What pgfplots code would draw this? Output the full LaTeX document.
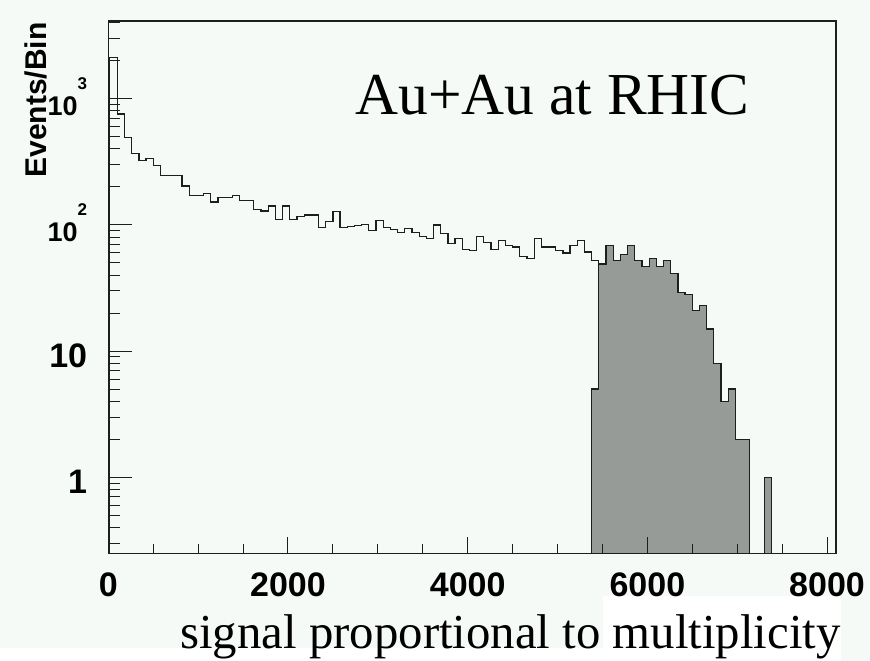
\documentclass[border=0pt]{standalone}
\usepackage{fontspec}
\setmainfont{Liberation Serif}
\setsansfont{Liberation Sans}
\usepackage{pgfplots}
\pgfplotsset{compat=1.18}
\definecolor{bgc}{RGB}{245,250,247}
\definecolor{histgray}{RGB}{151,155,151}
\definecolor{linec}{RGB}{30,30,30}
\newcommand{\tk}{\fontsize{17bp}{17bp}\selectfont\sffamily\bfseries}
\newcommand{\tke}[1]{\fontsize{13.5bp}{13.5bp}\selectfont\sffamily\bfseries 10\raisebox{13bp}{\fontsize{8.5bp}{8.5bp}\selectfont #1}}
\begin{document}
\begin{tikzpicture}
\begin{scope}[x=0.5bp,y=0.5bp]
\useasboundingbox (0,0) rectangle (870,661);
\fill[bgc] (0,13) rectangle (870,661);
\fill[bgc] (841,0) rectangle (870,13);
\fill[white] (603,0) rectangle (841,65);
\end{scope}
\begin{axis}[at={(54.15bp,53.85bp)}, anchor=south west, scale only axis,
  width=363.85bp, height=266.15bp,
  ymode=log, xmin=0, xmax=8100, ymin=0.25, ymax=4130,
  axis line style={linec, line width=0.65bp},
  tick style={linec, line width=0.5bp},
  xtick=\empty,
  ytick={1,10,100,1000},
  yticklabels={{\tk 1},{\tk 10},{\tke{2}},{\tke{3}}},
  minor ytick={0.3,0.4,0.5,0.6,0.7,0.8,0.9,2,3,4,5,6,7,8,9,20,30,40,50,60,70,80,90,200,300,400,500,600,700,800,900,2000,3000,4000},
  ytick pos=left,
  major tick length=11.85bp, minor tick length=6bp,
  yticklabel style={anchor=base east, inner sep=0pt, xshift=-10.4bp, yshift=-8.3bp},
]
% shaded (selected) events
\addplot[const plot, fill=histgray, draw=linec, line width=0.65bp] coordinates {
(5380,0.01) (5380,5) (5460,49) (5540,69) (5620,52) (5700,58) (5780,69) (5860,52)
(5940,47) (6020,54) (6100,47) (6180,52) (6260,41) (6340,29) (6420,28) (6500,21)
(6580,23) (6660,15) (6740,8) (6820,4) (6900,5) (6980,2) (7060,2) (7140,0.01)
(7220,0.01) (7300,1) (7380,0.01)
};
% all events
\addplot[const plot, draw=linec, line width=0.65bp] coordinates {
(10,0.01) (10,2130) (100,757) (180,494) (260,369) (340,323) (420,338) (500,295)
(580,245) (660,245) (740,245) (820,203) (900,172) (980,172) (1060,178) (1140,152)
(1220,164) (1300,164) (1380,170) (1460,156) (1540,156) (1620,133) (1700,129)
(1780,141) (1860,111) (1940,141) (2020,111) (2100,116) (2180,120) (2260,120)
(2340,95) (2420,106) (2500,127) (2580,95) (2660,97) (2740,99) (2820,101) (2900,90)
(2980,108) (3060,95) (3140,92) (3220,87) (3300,94) (3380,87) (3460,81) (3540,78)
(3620,100) (3700,86) (3780,71) (3860,78) (3940,64) (4020,63) (4100,81) (4180,73)
(4260,64) (4340,75) (4420,69) (4500,67) (4580,56) (4660,54) (4740,78) (4820,67)
(4900,67) (4980,63) (5060,60) (5140,69) (5220,75) (5300,61) (5380,52) (5460,49)
(5540,69) (5620,52) (5700,58) (5780,69) (5860,52) (5940,47) (6020,54) (6100,47)
(6180,52) (6260,41) (6340,29) (6420,28) (6500,21) (6580,23) (6660,15) (6740,8)
(6820,4) (6900,5) (6980,2) (7060,2) (7140,0.01) (7220,0.01) (7300,1) (7380,0.01)
(8100,0.01)
};
\end{axis}
\begin{axis}[at={(54.15bp,53.85bp)}, anchor=south west, scale only axis,
  width=363.85bp, height=266.15bp,
  ymode=log, xmin=0, xmax=8100, ymin=0.25, ymax=4130,
  axis line style={linec, line width=0.65bp},
  tick style={linec, line width=0.5bp},
  ytick=\empty,
  xtick={0,2000,4000,6000,8000},
  xticklabels={{\tk 0},{\tk 2000},{\tk 4000},{\tk 6000},{\tk 8000}},
  minor xtick={500,1000,1500,2500,3000,3500,4500,5000,5500,6500,7000,7500},
  xtick pos=bottom,
  major tick length=8.35bp, minor tick length=4.65bp,
  xticklabel style={anchor=base, inner sep=0pt, yshift=-21.7bp},
]
\end{axis}
\begin{scope}[x=0.5bp,y=0.5bp]
\node[rotate=90, anchor=base east, inner sep=0pt, font=\fontsize{15bp}{15bp}\selectfont\sffamily\bfseries] at (46,639) {Events/Bin};
\node[anchor=base west, inner sep=0pt, font=\fontsize{29.75bp}{30bp}\selectfont] at (355,546) {Au+Au at RHIC};
\node[anchor=base west, inner sep=0pt, font=\fontsize{24.4bp}{25bp}\selectfont] at (180,12.7) {signal proportional to multiplicity};
\end{scope}
\end{tikzpicture}
\end{document}
